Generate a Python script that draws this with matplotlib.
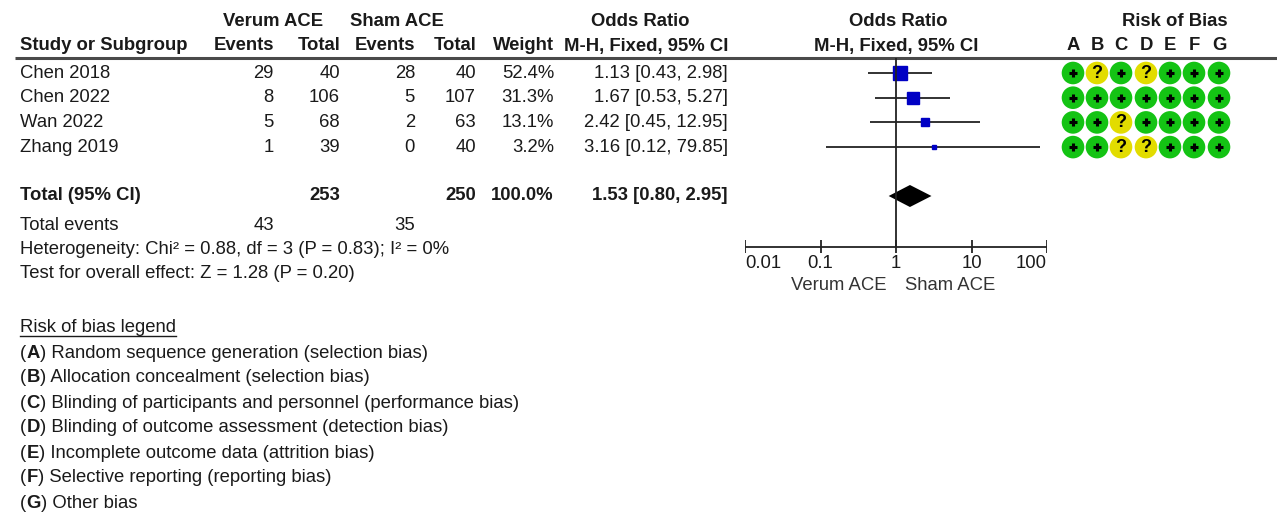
import numpy as np
import matplotlib
matplotlib.use('Agg')
import matplotlib.pyplot as plt
from matplotlib.patches import Circle

plt.rcParams['font.family'] = ['Liberation Sans', 'DejaVu Sans']

# study data
studies = ['Chen 2018', 'Chen 2022', 'Wan 2022', 'Zhang 2019']
verum_events = [29, 8, 5, 1]
verum_total = [40, 106, 68, 39]
sham_events = [28, 5, 2, 0]
sham_total = [40, 107, 63, 40]
weights = [52.4, 31.3, 13.1, 3.2]
odds = [1.13, 1.67, 2.42, 3.16]
ci_low = [0.43, 0.53, 0.45, 0.12]
ci_high = [2.98, 5.27, 12.95, 79.85]

# pooled result
total_verum = 253
total_sham = 250
total_weight = 100.0
pooled_or = 1.53
pooled_low = 0.80
pooled_high = 2.95
events_verum = 43
events_sham = 35

# risk of bias judgements, domains A-G
domains = ['A', 'B', 'C', 'D', 'E', 'F', 'G']
rob = [['+', '?', '+', '?', '+', '+', '+'],
       ['+', '+', '+', '+', '+', '+', '+'],
       ['+', '+', '?', '+', '+', '+', '+'],
       ['+', '+', '?', '?', '+', '+', '+']]

legend_items = [('A', 'Random sequence generation (selection bias)'),
                ('B', 'Allocation concealment (selection bias)'),
                ('C', 'Blinding of participants and personnel (performance bias)'),
                ('D', 'Blinding of outcome assessment (detection bias)'),
                ('E', 'Incomplete outcome data (attrition bias)'),
                ('F', 'Selective reporting (reporting bias)'),
                ('G', 'Other bias')]

W, H = 1277, 512
fig = plt.figure(figsize=(W / 100, H / 100), dpi=100)
fig.patch.set_facecolor('white')

# text layer in pixel units
ax = fig.add_axes([0, 0, 1, 1])
ax.set_xlim(0, W)
ax.set_ylim(H, 0)
ax.axis('off')

# forest plot layer, log scale between 0.01 and 100
fx0, fx1 = 745, 1047
fax = fig.add_axes([fx0 / W, 0, (fx1 - fx0) / W, 1])
fax.set_xscale('log')
fax.set_xlim(0.01, 100)
fax.set_ylim(H, 0)
fax.axis('off')

fs = 13.3
txt = '#1a1a1a'

def t(x, y, s, ha='left', bold=False, size=fs, **kw):
    return ax.text(x, y, s, ha=ha, va='center', fontsize=size,
                   fontweight='bold' if bold else 'normal', color=txt, **kw)

# headers
y1, y2 = 22, 46
t(273, y1, 'Verum ACE', ha='center', bold=True)
t(397, y1, 'Sham ACE', ha='center', bold=True)
t(640, y1, 'Odds Ratio', ha='center', bold=True)
t(898, y1, 'Odds Ratio', ha='center', bold=True)
t(1175, y1, 'Risk of Bias', ha='center', bold=True)

t(20, y2, 'Study or Subgroup', bold=True)
t(274, y2, 'Events', ha='right', bold=True)
t(340, y2, 'Total', ha='right', bold=True)
t(415, y2, 'Events', ha='right', bold=True)
t(476, y2, 'Total', ha='right', bold=True)
t(554, y2, 'Weight', ha='right', bold=True)
t(728, y2, 'M-H, Fixed, 95% CI', ha='right', bold=True)
t(896, y2, 'M-H, Fixed, 95% CI', ha='center', bold=True)

dom_x = [1073, 1097, 1121, 1146, 1170, 1194, 1219]
for dx, d in zip(dom_x, domains):
    t(dx, y2, d, ha='center', bold=True)

ax.plot([15, W], [58, 58], color='#4a4a4a', lw=2.2, solid_capstyle='butt')

# study rows
row_y = [73 + 24.7 * i for i in range(len(studies))]
for i, y in enumerate(row_y):
    t(20, y, studies[i])
    t(274, y, str(verum_events[i]), ha='right')
    t(340, y, str(verum_total[i]), ha='right')
    t(415, y, str(sham_events[i]), ha='right')
    t(476, y, str(sham_total[i]), ha='right')
    t(554, y, f'{weights[i]:.1f}%', ha='right')
    t(728, y, f'{odds[i]:.2f} [{ci_low[i]:.2f}, {ci_high[i]:.2f}]', ha='right')

    fax.hlines(y, ci_low[i], ci_high[i], color='#222222', lw=1.3)
    fax.plot(odds[i], y, marker='s', ms=1.49 * np.sqrt(weights[i]),
             color='#0000c4', mec='#0000c4', lw=0)

    for j, dx in enumerate(dom_x):
        mark = rob[i][j]
        col = '#14c314' if mark == '+' else '#e2dc00'
        ax.add_patch(Circle((dx, y), 11.3, color=col, lw=0))
        if mark == '+':
            # small bold plus sign
            ax.plot([dx - 4, dx + 4], [y, y], color='black', lw=2.2, solid_capstyle='butt')
            ax.plot([dx, dx], [y - 4, y + 4], color='black', lw=2.2, solid_capstyle='butt')
        else:
            ax.text(dx, y + 0.5, mark, ha='center', va='center',
                    fontsize=13, fontweight='bold', color='black')

# totals
ty = 196
t(20, ty, 'Total (95% CI)', bold=True)
t(340, ty, str(total_verum), ha='right', bold=True)
t(476, ty, str(total_sham), ha='right', bold=True)
t(554, ty, f'{total_weight:.1f}%', ha='right', bold=True)
t(728, ty, f'{pooled_or:.2f} [{pooled_low:.2f}, {pooled_high:.2f}]', ha='right', bold=True)
fax.fill([pooled_low, pooled_or, pooled_high, pooled_or], [ty, ty - 11, ty, ty + 11],
         color='black', lw=0)

t(20, 225, 'Total events')
t(274, 225, str(events_verum), ha='right')
t(415, 225, str(events_sham), ha='right')
t(20, 249, 'Heterogeneity: Chi² = 0.88, df = 3 (P = 0.83); I² = 0%')
t(20, 273, 'Test for overall effect: Z = 1.28 (P = 0.20)')

# forest axis
axis_y = 247
fax.vlines(1, 58, axis_y, color='#222222', lw=1.3)
fax.hlines(axis_y, 0.01, 100, color='#222222', lw=1.3)
ticks = [0.01, 0.1, 1, 10, 100]
tick_lbl = ['0.01', '0.1', '1', '10', '100']
fax.vlines(ticks, axis_y - 7, axis_y + 6, color='#222222', lw=1.3)
for k, (tv, tl) in enumerate(zip(ticks, tick_lbl)):
    ha = 'left' if k == 0 else ('right' if k == len(ticks) - 1 else 'center')
    fax.text(tv, 264, tl, ha=ha, va='center', fontsize=fs, color=txt)
fax.text(0.75, 285, 'Verum ACE', ha='right', va='center', fontsize=fs, color='#333333')
fax.text(1.3, 285, 'Sham ACE', ha='left', va='center', fontsize=fs, color='#333333')

# risk of bias legend
r = fig.canvas.get_renderer()
lg = t(20, 327, 'Risk of bias legend')
bb = lg.get_window_extent(r)
ax.plot([bb.x0, bb.x1], [336, 336], color=txt, lw=1)
for k, (letter, desc) in enumerate(legend_items):
    y = 353 + 25 * k
    a = t(20, y, '(')
    x = a.get_window_extent(r).x1
    b = t(x, y, letter, bold=True)
    x = b.get_window_extent(r).x1
    t(x, y, ') ' + desc)

fig.savefig('out.png', dpi=100, facecolor='white')
